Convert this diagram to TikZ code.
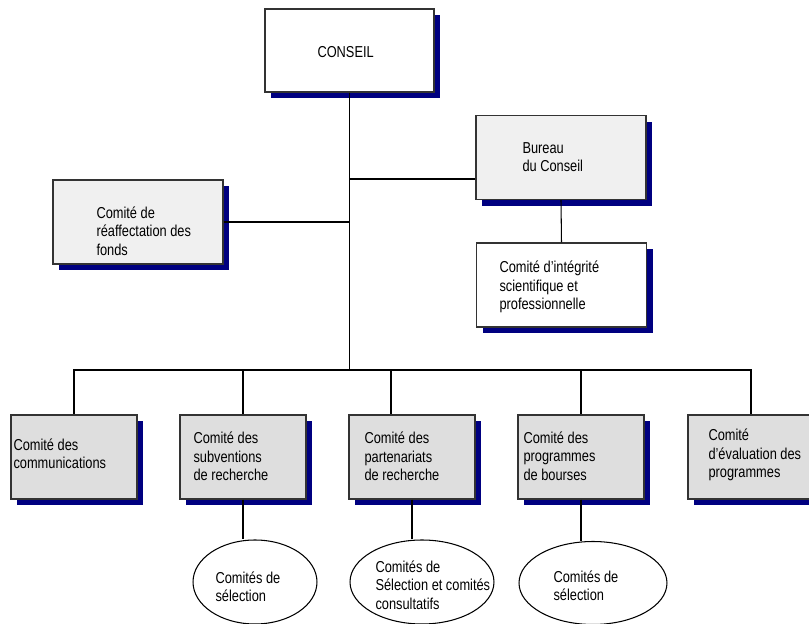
\documentclass[tikz,border=0pt]{standalone}
\usepackage{fontspec}
\setmainfont{Liberation Sans}[FakeStretch=0.81]
\usetikzlibrary{shadows,shapes.geometric}
\definecolor{shadownavy}{RGB}{0,0,128}
\begin{document}
\begin{tikzpicture}[x=0.02cm, y=-0.02cm, line width=0.6pt,
    font=\fontsize{9pt}{10.5pt}\selectfont,
    box/.style={draw=black!80, line width=0.6pt, minimum width=3.4cm, minimum height=1.68cm, inner sep=0pt,
      drop shadow={shadow xshift=3.6pt, shadow yshift=-3.6pt, fill=shadownavy, opacity=1}},
    smallbox/.style={box, minimum width=2.52cm},
    oval/.style={draw, ellipse, line width=0.6pt, inner sep=0pt},
    txt/.style={anchor=west, align=left, inner sep=0pt}]
  \clip (0,0) rectangle (809,624);
  \node[box, fill=white, minimum width=3.38cm, minimum height=1.66cm] (conseil) at (349.5,50.5) {};
  \node[box, fill=black!6] (bureau) at (561,157.5) {};
  \node[box, fill=black!6] (reaff) at (138,222) {};
  \node[box, fill=white] (integ) at (561.5,285) {};
  \node[smallbox, fill=black!13] (comm) at (74,457) {};
  \node[smallbox, fill=black!13] (subv) at (243,457) {};
  \node[smallbox, fill=black!13] (part) at (412,457) {};
  \node[smallbox, fill=black!13] (bour) at (581,457) {};
  \node[smallbox, fill=black!13] (eval) at (751,457) {};
  \node[oval, minimum width=2.48cm, minimum height=1.68cm] (sel1) at (255,582) {};
  \node[oval, minimum width=2.88cm, minimum height=1.68cm] (sel2) at (422,582) {};
  \node[oval, minimum width=2.96cm, minimum height=1.66cm] (sel3) at (593,583) {};

  \node[txt] (conseil-t) at (317,52) {CONSEIL};
  \node[txt] (bureau-t) at (522,157) {Bureau\\du Conseil};
  \node[txt] (reaff-t) at (96,231) {Comité de\\réaffectation des\\fonds};
  \node[txt] (integ-t) at (499,287) {Comité d’intégrité\\scientifique et\\professionnelle};
  \node[txt] (comm-t) at (13,454) {Comité des\\communications};
  \node[txt] (subv-t) at (193,456.5) {Comité des\\subventions\\de recherche};
  \node[txt] (part-t) at (364,456.5) {Comité des\\partenariats\\de recherche};
  \node[txt] (bour-t) at (523,456) {Comité des\\programmes\\de bourses};
  \node[txt] (eval-t) at (708,455) {Comité\\d’évaluation des\\programmes};
  \node[txt] (sel1-t) at (215,587) {Comités de\\sélection};
  \node[txt] (sel2-t) at (375,585) {Comités de\\Sélection et comités\\consultatifs};
  \node[txt] (sel3-t) at (553,586) {Comités de\\sélection};

  \coordinate (bus) at (349.5,370);
  \draw (conseil.south) -- (bus);
  \draw (conseil.south |- 0,179) -- (bureau.west |- 0,179);
  \draw (reaff.east) -- (reaff.east -| conseil.south);
  \draw (bureau.south) -- (integ.north);
  \draw (bus) -| (comm.north);
  \draw (bus) -| (subv.north);
  \draw (bus) -| ([xshift=-0.42cm]part.north);
  \draw (bus) -| (bour.north);
  \draw (bus) -| (eval.north);
  \draw (subv.south) -- (subv.south |- sel1.north);
  \draw (part.south) -- (part.south |- sel2.north);
  \draw (bour.south) -- (bour.south |- sel3.north);
\end{tikzpicture}
\end{document}
